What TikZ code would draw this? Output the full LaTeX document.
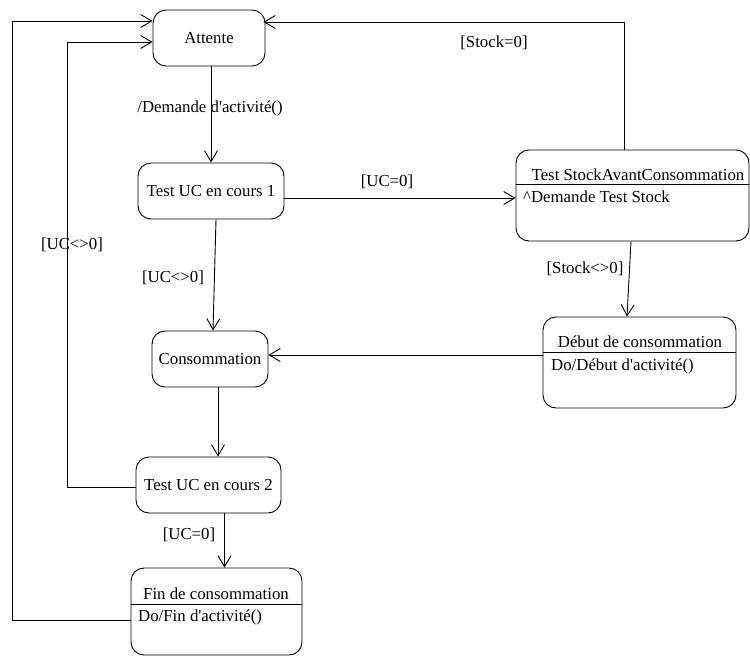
\documentclass[tikz,border=0pt]{standalone}
\usepackage{fontspec}
\setmainfont{Liberation Serif}[Ligatures=TeXOff]
\usetikzlibrary{arrows.meta}
\begin{document}
\begin{tikzpicture}[x=1pt,y=-1pt,
  txt/.style={inner sep=0pt, font=\fontsize{16.8}{20}\selectfont},
  state/.style={draw, rounded corners=13pt, line width=0.9pt, inner sep=0pt, txt},
  conn/.style={line width=0.9pt, -{Straight Barb[length=11pt,width=13pt,line width=0.9pt]}},
  sep/.style={line width=0.9pt}]
\useasboundingbox (0,0) rectangle (750,656);

% states
\node[state, minimum width=112pt, minimum height=56pt] (att) at (209,38) {Attente};
\node[state, minimum width=146pt, minimum height=56pt] (tuc1) at (211,191) {Test UC en cours 1};
\node[state, minimum width=116pt, minimum height=56pt] (cons) at (210,359) {Consommation};
\node[state, minimum width=145pt, minimum height=56pt] (tuc2) at (208.5,485) {Test UC en cours 2};

\node[state, minimum width=233pt, minimum height=91pt] (tsc) at (632.5,195.5) {};
\draw[sep] (tsc.west |- 0,184) -- (tsc.east |- 0,184);
\node[txt] (tsct) at (638,175) {Test StockAvantConsommation};
\node[txt, anchor=west] (tscb) at (523,197) {\textasciicircum Demande Test Stock};

\node[state, minimum width=193pt, minimum height=91pt] (dc) at (639.5,362.5) {};
\draw[sep] (dc.west |- 0,352) -- (dc.east |- 0,352);
\node[txt] (dct) at (640,342) {Début de consommation};
\node[txt, anchor=west] (dcb) at (551,366) {Do/Début d'activité()};

\node[state, minimum width=171pt, minimum height=87pt] (fc) at (216.5,611.5) {};
\draw[sep] (fc.west |- 0,604) -- (fc.east |- 0,604);
\node[txt] (fct) at (216,594) {Fin de consommation};
\node[txt, anchor=west] (fcb) at (138,617) {Do/Fin d'activité()};

% transitions
\draw[conn] (att.south -| tuc1.north) -- (tuc1.north);
\node[txt] (l1) at (210,108) {/Demande d'activité()};

\draw[conn] ([yshift=-7pt]tuc1.east) -- ([yshift=-7pt]tuc1.east -| tsc.west);
\node[txt] (l2) at (387,182) {[UC=0]};

\draw[conn] ([xshift=-8.5pt]tsc.north) |- ([xshift=-2pt,yshift=16pt]att.east);
\node[txt] (l3) at (494,43) {[Stock=0]};

\draw[conn] ([xshift=5pt]tuc1.south) -- ([xshift=3pt]cons.north);
\node[txt] (l4) at (173,278) {[UC<>0]};

\draw[conn] ([xshift=-1.5pt]tsc.south) -- ([xshift=-12.5pt]dc.north);
\node[txt] (l5) at (585,269) {[Stock<>0]};

\draw[conn] ([yshift=7.5pt]dc.west) -- ([yshift=7.5pt]dc.west -| cons.east);

\draw[conn] ([xshift=8pt]cons.south) -- ([xshift=8pt]cons.south |- tuc2.north);

\draw[conn] ([yshift=-2pt]tuc2.west) -| ([xshift=-85pt,yshift=-4pt]att.west) -- ([yshift=-4pt]att.west);
\node[txt] (l6) at (72,245) {[UC<>0]};

\draw[conn] ([xshift=16pt]tuc2.south) -- ([xshift=16pt]tuc2.south |- fc.north);
\node[txt] (l7) at (189,535) {[UC=0]};

\draw[conn] ([yshift=-8.5pt]fc.west) -| ([xshift=-140pt,yshift=17pt]att.west) -- ([yshift=17pt]att.west);
\end{tikzpicture}
\end{document}
